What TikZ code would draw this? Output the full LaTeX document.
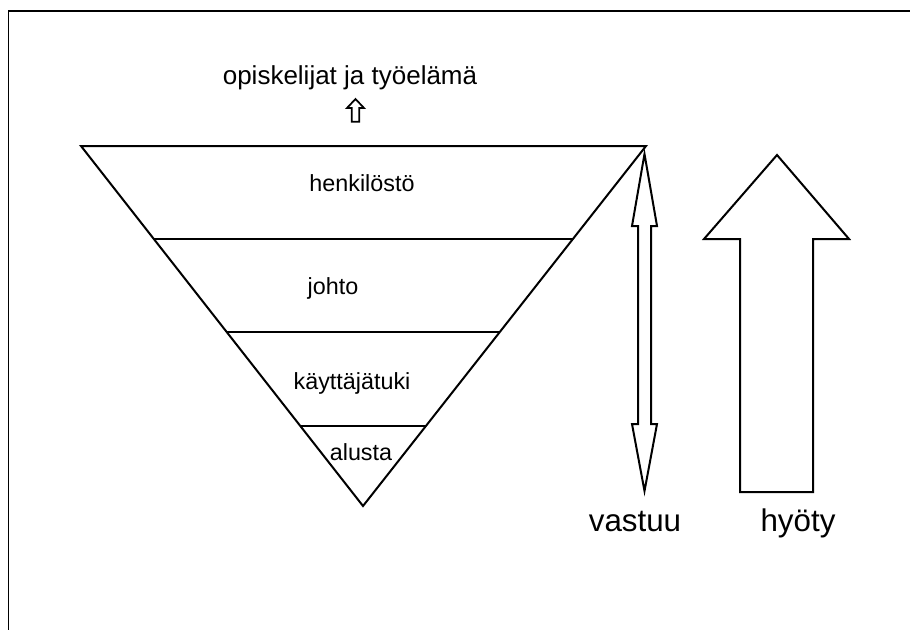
\documentclass[tikz,border=0pt]{standalone}
\usepackage{fontspec}
\setmainfont{Liberation Sans}
\begin{document}
\begin{tikzpicture}[x=0.75pt,y=-0.75pt,
  outline/.style={draw=black,line width=1.5pt,line join=miter},
  lbl/.style={inner sep=0pt,font=\fontsize{17.5}{19}\selectfont},
  toplbl/.style={inner sep=0pt,font=\fontsize{19.5}{21}\selectfont},
  biglbl/.style={inner sep=0pt,anchor=base,font=\fontsize{23.5}{26}\selectfont}]
\useasboundingbox (0,0) rectangle (910,629);
\clip (0,0) rectangle (910,629);
\fill[white] (0,0) rectangle (910,629);
% outer frame (only its top and left edges fall on the page)
\draw[line width=1.4pt] (8.5,11) rectangle (930,650);

% inverted pyramid
\coordinate (tl) at (81,146);
\coordinate (tr) at (646,146);
\coordinate (ap) at (363,506);
\draw[outline] (tl) -- (tr) -- (ap) -- cycle;
\draw[outline] (154.1,239) -- (572.9,239);
\draw[outline] (227.1,332) -- (499.9,332);
\draw[outline] (300.9,426) -- (426.1,426);

\node[lbl] (henk) at (362,183) {henkilöstö};
\node[lbl] (johto) at (333,288) {johto};
\node[lbl] (kayt) at (352,383) {käyttäjätuki};
\node[lbl] (alusta) at (361,452) {alusta};

% label and hollow arrow above the pyramid
\node[toplbl] (top) at (350,78) {opiskelijat ja työelämä};
\draw[outline,line width=1.3pt] (355.5,99) -- (364,108) -- (359.3,108) -- (359.3,121.7)
  -- (351.7,121.7) -- (351.7,108) -- (347,108) -- cycle;

% double-headed hollow arrow (vastuu)
\draw[outline] (644.5,154) -- (657,226) -- (651,226) -- (651,424) -- (657,424)
  -- (644.5,491) -- (632,424) -- (638,424) -- (638,226) -- (632,226) -- cycle;
\node[biglbl] (vastuu) at (635,531) {vastuu};

% large hollow up arrow (hyöty)
\draw[outline] (777,155) -- (849,239) -- (813,239) -- (813,492) -- (740,492)
  -- (740,239) -- (704,239) -- cycle;
\node[biglbl] (hyoty) at (798,531) {hyöty};
\end{tikzpicture}
\end{document}
